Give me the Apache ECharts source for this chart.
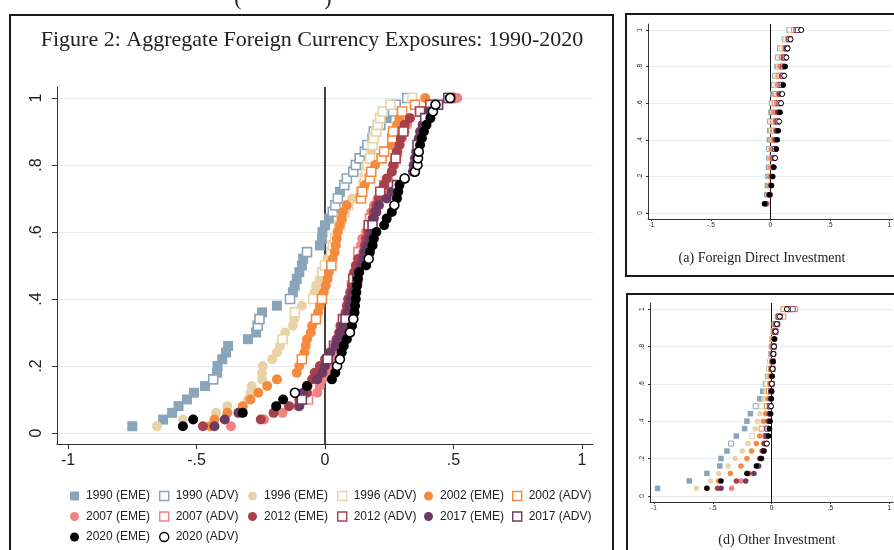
<!DOCTYPE html>
<html>
<head>
<meta charset="utf-8">
<script src="https://cdn.jsdelivr.net/npm/echarts@6/dist/echarts.min.js"></script>
<style>
  html, body { margin: 0; padding: 0; background: #fff; }
  #chart { width: 894px; height: 550px; }
</style>
</head>
<body>
<div id="chart"></div>
<script>
const years = ['1990', '1996', '2002', '2007', '2012', '2017', '2020'];
const yearColors = ['#8aa5ba', '#e9d3a6', '#f68a3c', '#f08282', '#a6404a', '#6e3a64', '#000000'];
const xTicks = [-1, -0.5, 0, 0.5, 1];
const yTicks = [0, 0.2, 0.4, 0.6, 0.8, 1];

// main panel: sorted exposure of each country, y = rank / count
const main1990 = [-0.75, -0.63, -0.595, -0.57, -0.537, -0.51, -0.467, -0.435, -0.42, -0.418, -0.40, -0.385, -0.377, -0.30, -0.268, -0.262, -0.255, -0.245, -0.187, -0.136, -0.125, -0.118, -0.11, -0.10, -0.09, -0.085, -0.07, -0.02, -0.012, -0.01, 0.0, 0.015, 0.03, 0.04, 0.05, 0.058, 0.075, 0.085, 0.11, 0.12, 0.135, 0.155, 0.165, 0.185, 0.19, 0.215, 0.24, 0.265, 0.275, 0.32];
const main1996 = [-0.654, -0.553, -0.424, -0.38, -0.30, -0.29, -0.285, -0.245, -0.245, -0.242, -0.206, -0.187, -0.175, -0.165, -0.155, -0.125, -0.12, -0.117, -0.09, -0.046, -0.04, -0.035, -0.02, -0.01, 0.0, 0.01, 0.025, 0.03, 0.04, 0.047, 0.055, 0.065, 0.075, 0.09, 0.105, 0.14, 0.15, 0.155, 0.16, 0.165, 0.175, 0.18, 0.185, 0.19, 0.2, 0.205, 0.215, 0.225, 0.255, 0.34];
const main2002 = [-0.447, -0.43, -0.38, -0.32, -0.29, -0.26, -0.225, -0.187, -0.11, -0.10, -0.09, -0.08, -0.075, -0.07, -0.055, -0.05, -0.035, -0.027, -0.02, -0.012, -0.005, 0.003, 0.01, 0.015, 0.025, 0.03, 0.038, 0.042, 0.046, 0.05, 0.058, 0.065, 0.07, 0.085, 0.14, 0.145, 0.155, 0.175, 0.18, 0.195, 0.22, 0.23, 0.26, 0.262, 0.265, 0.28, 0.29, 0.30, 0.35, 0.39];
const main2007 = [-0.366, -0.237, -0.165, -0.105, -0.066, -0.03, -0.02, -0.01, 0.01, 0.02, 0.03, 0.04, 0.045, 0.058, 0.065, 0.07, 0.072, 0.085, 0.09, 0.092, 0.097, 0.105, 0.11, 0.112, 0.125, 0.127, 0.13, 0.14, 0.145, 0.16, 0.17, 0.175, 0.18, 0.19, 0.205, 0.225, 0.23, 0.245, 0.26, 0.27, 0.272, 0.28, 0.29, 0.30, 0.31, 0.32, 0.33, 0.37, 0.41, 0.515];
const main2012 = [-0.475, -0.25, -0.2, -0.14, -0.1, -0.07, -0.068, -0.05, -0.04, -0.02, 0.0, 0.02, 0.035, 0.045, 0.055, 0.06, 0.07, 0.08, 0.085, 0.09, 0.1, 0.105, 0.11, 0.115, 0.12, 0.13, 0.15, 0.155, 0.16, 0.168, 0.17, 0.185, 0.19, 0.2, 0.21, 0.215, 0.23, 0.24, 0.26, 0.265, 0.275, 0.28, 0.29, 0.295, 0.305, 0.31, 0.33, 0.37, 0.41, 0.487];
const main2017 = [-0.43, -0.39, -0.337, -0.1, -0.09, -0.085, -0.07, -0.03, -0.01, 0.0, 0.01, 0.02, 0.04, 0.05, 0.06, 0.07, 0.08, 0.09, 0.095, 0.1, 0.11, 0.12, 0.125, 0.13, 0.14, 0.15, 0.155, 0.165, 0.175, 0.18, 0.185, 0.19, 0.2, 0.21, 0.24, 0.26, 0.28, 0.31, 0.342, 0.345, 0.35, 0.355, 0.36, 0.365, 0.37, 0.38, 0.39, 0.405, 0.44, 0.48];
const main2020 = [-0.553, -0.513, -0.32, -0.19, -0.163, -0.117, -0.07, 0.027, 0.04, 0.047, 0.058, 0.065, 0.073, 0.085, 0.097, 0.105, 0.11, 0.115, 0.117, 0.12, 0.122, 0.125, 0.128, 0.133, 0.16, 0.17, 0.175, 0.185, 0.19, 0.2, 0.23, 0.24, 0.26, 0.27, 0.28, 0.285, 0.29, 0.31, 0.35, 0.36, 0.362, 0.365, 0.37, 0.377, 0.385, 0.395, 0.41, 0.42, 0.43, 0.487];

// country group of each point: E = emerging (filled), A = advanced (hollow)
const mainGrp1990 = 'EEEEEEEAEEEEEEEAAEEAEEEEEEAEEEEEAAAEAAAAAAAAAAEAAA';
const mainGrp1996 = 'EEEEEEEEEEEEEAEEEAEAEEEAAEAAAEAAAAEAAAAAAEAAAAAAAA';
const mainGrp2002 = 'EEEEEEEEEEAEEEEEAEEAEEEEAEEEEEEEEEAAEAAEAAEAAEEAAE';
const mainGrp2007 = 'EEEEAEEEEEEEEAEEEEEEEAEEEEAEEEEAEEEEAEEEEAEEEEEAAE';
const mainGrp2012 = 'EEEEEEEEEEEEAEEEAEEEEEAEEEEEEEAEEEEAEEEEAEEEAEEAAA';
const mainGrp2017 = 'EEEEAEEEEEAEEEEEAEEEEEAEEEEEEEAEEEEEAEEEEEAEEEAEAA';
const mainGrp2020 = 'EEEEEAEEEAAEEEAEAEEEEEEEEAEEEEEEEAEEEAAAAAEEEEEAAA';

// (a) foreign direct investment
const fdi1990 = [-0.04, -0.03, -0.025, -0.02, -0.015, -0.012, -0.01, -0.008, -0.005, -0.002, 0.005, 0.012, 0.02, 0.03, 0.04, 0.055, 0.065, 0.08, 0.12, 0.16];
const fdi1996 = [-0.035, -0.02, -0.015, -0.01, -0.005, 0.0, 0.002, 0.005, 0.01, 0.015, 0.02, 0.03, 0.04, 0.05, 0.06, 0.07, 0.08, 0.1, 0.13, 0.17];
const fdi2002 = [-0.03, -0.015, -0.01, -0.005, 0.0, 0.005, 0.01, 0.015, 0.02, 0.025, 0.03, 0.04, 0.05, 0.06, 0.07, 0.08, 0.1, 0.12, 0.15, 0.2];
const fdi2007 = [-0.03, -0.01, 0.0, 0.005, 0.01, 0.015, 0.02, 0.025, 0.03, 0.04, 0.045, 0.055, 0.065, 0.075, 0.085, 0.095, 0.11, 0.13, 0.16, 0.22];
const fdi2012 = [-0.04, -0.005, 0.005, 0.012, 0.02, 0.027, 0.033, 0.04, 0.047, 0.053, 0.06, 0.068, 0.076, 0.085, 0.095, 0.105, 0.115, 0.135, 0.16, 0.22];
const fdi2017 = [-0.04, 0.0, 0.008, 0.015, 0.025, 0.032, 0.04, 0.047, 0.055, 0.063, 0.07, 0.078, 0.086, 0.095, 0.105, 0.115, 0.125, 0.14, 0.16, 0.23];
const fdi2020 = [-0.05, -0.01, 0.01, 0.02, 0.03, 0.04, 0.05, 0.058, 0.066, 0.074, 0.082, 0.09, 0.1, 0.108, 0.116, 0.125, 0.135, 0.145, 0.17, 0.26];
const fdiGrp = ['EEEEEEAEEAEAEAAEAAAA', 'EEEEEAEEAEEAEAAAEAAA', 'EEEEEEEAEAEAAEAEAAAA', 'EEEEAEEEAEEAEAAEAAAE', 'EEEEEAEEEAEAEAEAAAAA', 'EEEEEEAEEAEAEAAEAAAA', 'EEEEEAEEEAEAAEAEAAAA'];

// (d) other investment
const oth1990 = [-0.97, -0.70, -0.55, -0.44, -0.43, -0.38, -0.345, -0.30, -0.23, -0.21, -0.18, -0.135, -0.10, -0.075, -0.05, -0.035, -0.022, -0.012, -0.005, 0.0, 0.005, 0.015, 0.03, 0.06, 0.16];
const oth1996 = [-0.64, -0.52, -0.45, -0.37, -0.31, -0.25, -0.2, -0.165, -0.14, -0.12, -0.1, -0.085, -0.065, -0.05, -0.04, -0.03, -0.02, -0.012, -0.005, 0.0, 0.005, 0.012, 0.025, 0.05, 0.12];
const oth2002 = [-0.55, -0.45, -0.35, -0.26, -0.21, -0.17, -0.13, -0.1, -0.085, -0.07, -0.05, -0.04, -0.03, -0.022, -0.015, -0.01, -0.005, 0.0, 0.003, 0.006, 0.01, 0.02, 0.03, 0.06, 0.1];
const oth2007 = [-0.34, -0.26, -0.19, -0.12, -0.09, -0.065, -0.05, -0.04, -0.03, -0.02, -0.015, -0.01, -0.005, 0.0, 0.001, 0.003, 0.006, 0.01, 0.013, 0.017, 0.022, 0.03, 0.05, 0.1, 0.2];
const oth2012 = [-0.46, -0.3, -0.2, -0.12, -0.1, -0.08, -0.065, -0.05, -0.04, -0.03, -0.02, -0.015, -0.01, -0.005, 0.0, 0.003, 0.006, 0.01, 0.014, 0.018, 0.024, 0.032, 0.045, 0.07, 0.18];
const oth2017 = [-0.43, -0.22, -0.15, -0.11, -0.085, -0.07, -0.055, -0.045, -0.035, -0.025, -0.018, -0.012, -0.008, -0.004, 0.0, 0.003, 0.007, 0.01, 0.014, 0.018, 0.023, 0.03, 0.04, 0.06, 0.14];
const oth2020 = [-0.55, -0.43, -0.21, -0.13, -0.09, -0.065, -0.04, -0.025, -0.018, -0.012, -0.008, -0.005, -0.002, 0.0, 0.002, 0.005, 0.008, 0.012, 0.016, 0.02, 0.026, 0.034, 0.045, 0.07, 0.13];
const othGrp = ['EEEEEEAEEEEAEEAEAEAAEAAAA', 'EEEEEEEAEEEAEEAEAAEAEAAAA', 'EEEEEEEEAEEAEAEEAEAAEAAAA', 'EEEEEEAEEEEAEEAEAEAAEAAAA', 'EEEEEEEAEEEAEEAEAAEAEAAAA', 'EEEEEEEEAEEAEAEEAEAAEAAAA', 'EEEEEEAEEEEAEEAEAEAAEAAAA'];

const mainX = [main1990, main1996, main2002, main2007, main2012, main2017, main2020];
const mainGrp = [mainGrp1990, mainGrp1996, mainGrp2002, mainGrp2007, mainGrp2012, mainGrp2017, mainGrp2020];
const fdiX = [fdi1990, fdi1996, fdi2002, fdi2007, fdi2012, fdi2017, fdi2020];
const othX = [oth1990, oth1996, oth2002, oth2007, oth2012, oth2017, oth2020];

const chart = echarts.init(document.getElementById('chart'));

// stata style tick labels: .5 instead of 0.5
function fmt(v) {
  return String(v).replace('0.', '.');
}

function makeAxes(gi, xr, fs, tickLen, xMargin, yMargin) {
  const x = {
    type: 'value', gridIndex: gi, min: -xr, max: xr,
    axisLine: { onZero: false, lineStyle: { color: '#333', width: 1 } },
    axisTick: { customValues: xTicks, length: tickLen, lineStyle: { color: '#333' } },
    axisLabel: { customValues: xTicks, formatter: fmt, fontSize: fs, color: '#222', fontFamily: 'Liberation Sans', margin: xMargin },
    splitLine: { show: false }
  };
  const y = {
    type: 'value', gridIndex: gi, min: -0.033, max: 1.033,
    axisLine: { show: true, onZero: false, lineStyle: { color: '#333', width: 1 } },
    axisTick: { show: true, customValues: yTicks, length: tickLen, lineStyle: { color: '#333' } },
    axisLabel: { customValues: yTicks, formatter: fmt, fontSize: fs, color: '#222', fontFamily: 'Liberation Sans', rotate: 90, margin: yMargin },
    splitLine: { show: true, lineStyle: { color: '#e3edf1', width: 1 } }
  };
  return [x, y];
}

function cdfSeries(xsList, grpList, gi, sz) {
  const out = [];
  xsList.forEach((xs, k) => {
    const n = xs.length;
    const eme = [];
    const adv = [];
    xs.forEach((x, i) => {
      const pt = [x, (i + 1) / n];
      if (grpList[k][i] === 'A') adv.push(pt); else eme.push(pt);
    });
    const c = yearColors[k];
    out.push({
      name: years[k] + ' (EME)', type: 'scatter', xAxisIndex: gi, yAxisIndex: gi, silent: true,
      data: eme, symbol: k === 0 ? 'rect' : 'circle', symbolSize: sz.dot,
      itemStyle: { color: c, opacity: 1 }
    });
    out.push({
      name: years[k] + ' (ADV)', type: 'scatter', xAxisIndex: gi, yAxisIndex: gi, silent: true,
      data: adv, symbol: k === 6 ? 'circle' : 'rect', symbolSize: sz.hollow,
      itemStyle: { color: '#fff', borderColor: c, borderWidth: sz.bw, opacity: 1 }
    });
  });
  // vertical reference line at zero
  out[0].markLine = {
    silent: true, symbol: 'none', z: 1, animation: false,
    label: { show: false },
    lineStyle: { color: '#111', width: sz.zl, type: 'solid' },
    data: [{ xAxis: 0 }]
  };
  return out;
}

const a0 = makeAxes(0, 1.043, 16, 5, 9, 12);
const a1 = makeAxes(1, 1.03, 6.5, 2, 3, 4);
const a2 = makeAxes(2, 1.034, 6.5, 2, 3, 4);

const series = [].concat(
  cdfSeries(mainX, mainGrp, 0, { dot: 10, hollow: 9, bw: 1.6, zl: 1.6 }),
  cdfSeries(fdiX, fdiGrp, 1, { dot: 5.5, hollow: 5, bw: 1, zl: 1 }),
  cdfSeries(othX, othGrp, 2, { dot: 5.5, hollow: 5, bw: 1, zl: 1 })
);

// legend: six columns, filled = EME, hollow = ADV
const legendCols = [
  ['1990 (EME)', '2007 (EME)', '2020 (EME)'],
  ['1990 (ADV)', '2007 (ADV)', '2020 (ADV)'],
  ['1996 (EME)', '2012 (EME)'],
  ['1996 (ADV)', '2012 (ADV)'],
  ['2002 (EME)', '2017 (EME)'],
  ['2002 (ADV)', '2017 (ADV)']
];
const legendLeft = [70, 159, 248, 337, 424, 512];

function legendItem(name) {
  const k = years.indexOf(name.slice(0, 4));
  const adv = name.indexOf('ADV') > 0;
  const c = yearColors[k];
  if (adv) {
    return { name, icon: k === 6 ? 'circle' : 'rect', itemStyle: { color: '#fff', borderColor: c, borderWidth: 1.4 } };
  }
  return { name, icon: k === 0 ? 'rect' : 'circle', itemStyle: { color: c, borderWidth: 0 } };
}

const legends = legendCols.map((col, i) => ({
  orient: 'vertical', left: legendLeft[i], top: 489, height: 80, padding: 0,
  itemWidth: 9, itemHeight: 9, itemGap: 6.5, selectedMode: false,
  textStyle: { fontSize: 12, color: '#222', fontFamily: 'Liberation Sans', lineHeight: 14, padding: [0, 0, 0, 2] },
  data: col.map(legendItem)
}));

const serif = 'Liberation Serif';

chart.setOption({
  animation: false,
  backgroundColor: '#fff',
  grid: [
    { left: 57, top: 87, width: 536, height: 357 },
    { left: 648, top: 24, width: 248, height: 195 },
    { left: 650, top: 303, width: 246, height: 199 }
  ],
  xAxis: [a0[0], a1[0], a2[0]],
  yAxis: [a0[1], a1[1], a2[1]],
  legend: legends,
  series: series,
  graphic: [
    { type: 'rect', shape: { x: 10, y: 15, width: 603, height: 545 }, style: { fill: 'none', stroke: '#1a1a1a', lineWidth: 2 }, z: 100 },
    { type: 'rect', shape: { x: 626, y: 14, width: 300, height: 262 }, style: { fill: 'none', stroke: '#1a1a1a', lineWidth: 2 }, z: 100 },
    { type: 'rect', shape: { x: 627, y: 294, width: 300, height: 300 }, style: { fill: 'none', stroke: '#1a1a1a', lineWidth: 2 }, z: 100 },
    { type: 'text', x: 312, y: 40, z: 100, style: { text: 'Figure 2: Aggregate Foreign Currency Exposures: 1990-2020', fontFamily: serif, fontSize: 22, fill: '#222', align: 'center', verticalAlign: 'middle' } },
    { type: 'text', x: 762, y: 258, z: 100, style: { text: '(a) Foreign Direct Investment', fontFamily: serif, fontSize: 14, fill: '#222', align: 'center', verticalAlign: 'middle' } },
    { type: 'text', x: 777, y: 540, z: 100, style: { text: '(d) Other Investment', fontFamily: serif, fontSize: 14, fill: '#222', align: 'center', verticalAlign: 'middle' } },
    { type: 'text', x: 238, y: 10, z: 100, style: { text: '(', fontFamily: serif, fontSize: 22, fill: '#222', align: 'center', verticalAlign: 'bottom' } },
    { type: 'text', x: 328, y: 10, z: 100, style: { text: ')', fontFamily: serif, fontSize: 22, fill: '#222', align: 'center', verticalAlign: 'bottom' } }
  ]
});
</script>
</body>
</html>
